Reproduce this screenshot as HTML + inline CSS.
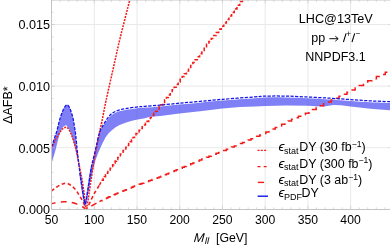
<!DOCTYPE html>
<html><head><meta charset="utf-8"><title>plot</title>
<style>html,body{margin:0;padding:0;background:#fff;width:390px;height:246px;overflow:hidden}body{position:relative;font-family:"Liberation Sans",sans-serif}</style></head>
<body>
<svg width="390" height="246" viewBox="0 0 390 246" style="position:absolute;left:0;top:0;will-change:transform" font-family="'Liberation Sans', sans-serif" fill="#000">
<rect width="390" height="246" fill="#fff"/>
<line x1="94.32" y1="0" x2="94.32" y2="209.30" stroke="#e7e7e7" stroke-width="0.9"/>
<line x1="137.04" y1="0" x2="137.04" y2="209.30" stroke="#e7e7e7" stroke-width="0.9"/>
<line x1="179.76" y1="0" x2="179.76" y2="209.30" stroke="#e7e7e7" stroke-width="0.9"/>
<line x1="222.48" y1="0" x2="222.48" y2="209.30" stroke="#e7e7e7" stroke-width="0.9"/>
<line x1="265.20" y1="0" x2="265.20" y2="209.30" stroke="#e7e7e7" stroke-width="0.9"/>
<line x1="307.92" y1="0" x2="307.92" y2="209.30" stroke="#e7e7e7" stroke-width="0.9"/>
<line x1="350.64" y1="0" x2="350.64" y2="209.30" stroke="#e7e7e7" stroke-width="0.9"/>
<line x1="393.36" y1="0" x2="393.36" y2="209.30" stroke="#e7e7e7" stroke-width="0.9"/>
<line x1="51.60" y1="147.73" x2="395" y2="147.73" stroke="#e7e7e7" stroke-width="0.9"/>
<line x1="51.60" y1="86.15" x2="395" y2="86.15" stroke="#e7e7e7" stroke-width="0.9"/>
<line x1="51.60" y1="24.58" x2="395" y2="24.58" stroke="#e7e7e7" stroke-width="0.9"/>
<path d="M51.50,147.00 C51.92,145.75 53.08,142.25 54.00,139.50 C54.92,136.75 56.15,133.45 57.00,130.50 C57.85,127.55 58.43,124.30 59.10,121.80 C59.77,119.30 60.35,117.42 61.00,115.50 C61.65,113.58 62.33,111.78 63.00,110.30 C63.67,108.82 64.35,107.48 65.00,106.60 C65.65,105.72 66.27,105.05 66.90,105.00 C67.53,104.95 68.17,105.38 68.80,106.30 C69.43,107.22 70.00,108.52 70.70,110.50 C71.40,112.48 72.35,115.37 73.00,118.20 C73.65,121.03 74.17,124.87 74.60,127.50 C75.03,130.13 75.20,130.58 75.60,134.00 C76.00,137.42 76.55,143.67 77.00,148.00 C77.45,152.33 77.82,155.83 78.30,160.00 C78.78,164.17 79.35,168.90 79.90,173.00 C80.45,177.10 81.03,180.77 81.60,184.60 C82.17,188.43 82.75,192.77 83.30,196.00 C83.85,199.23 84.63,202.67 84.90,204.00 L84.90,204.00 L83.30,192.00 L81.00,177.00 L78.00,161.50 L75.00,148.00 L72.00,136.50 L69.20,129.00 L66.10,125.10 L63.00,127.00 L60.50,131.50 L58.00,140.00 L55.00,152.00 L51.50,163.20 Z" fill="#2a2af0" fill-opacity="0.6" stroke="none"/>
<path d="M85.50,204.00 C85.73,202.67 86.38,199.17 86.90,196.00 C87.42,192.83 87.88,189.67 88.60,185.00 C89.32,180.33 90.47,172.17 91.20,168.00 C91.93,163.83 92.17,163.58 93.00,160.00 C93.83,156.42 95.10,151.12 96.20,146.50 C97.30,141.88 98.42,135.81 99.60,132.30 C100.78,128.79 101.97,127.58 103.30,125.44 C104.63,123.29 106.18,121.19 107.60,119.44 C109.02,117.68 110.10,116.17 111.80,114.90 C113.50,113.63 115.52,112.63 117.80,111.80 C120.08,110.97 122.40,110.47 125.50,109.90 C128.60,109.33 133.15,108.78 136.40,108.40 C139.65,108.02 140.98,107.93 145.00,107.60 C149.02,107.27 154.78,106.92 160.50,106.40 C166.22,105.88 172.72,105.12 179.30,104.50 C185.88,103.88 192.82,103.35 200.00,102.70 C207.18,102.05 213.23,101.35 222.40,100.60 C231.57,99.85 247.77,98.73 255.00,98.20 C262.23,97.67 260.65,97.53 265.80,97.40 C270.95,97.27 278.93,97.25 285.90,97.40 C292.87,97.55 300.25,97.95 307.60,98.30 C314.95,98.65 322.85,99.07 330.00,99.50 C337.15,99.93 343.78,100.45 350.50,100.90 C357.22,101.35 363.72,101.85 370.30,102.20 C376.88,102.55 385.72,102.82 390.00,103.00 C394.28,103.18 395.00,103.25 396.00,103.30 L396.00,110.60 L390.00,110.20 L370.30,108.70 L350.50,106.60 L341.00,105.20 L333.20,105.00 L324.00,106.40 L316.00,106.20 L307.60,105.80 L285.90,105.60 L265.80,105.90 L255.00,106.40 L240.00,107.00 L222.40,108.40 L200.00,111.20 L179.30,113.60 L160.50,115.90 L150.10,116.80 L145.00,118.20 L136.40,119.70 L131.90,120.70 L127.00,122.20 L122.80,123.70 L119.00,125.30 L115.60,127.30 L111.80,130.20 L108.40,133.60 L105.50,137.60 L102.90,142.60 L101.00,146.60 L98.80,151.50 L95.50,160.00 L92.50,172.00 L89.80,184.00 L87.60,196.00 L85.50,204.00 Z" fill="#2a2af0" fill-opacity="0.6" stroke="none"/>
<path d="M51.30,148.59 C51.75,147.62 53.05,144.73 54.00,142.80 C54.95,140.87 55.75,139.15 57.00,137.01 C58.25,134.88 60.33,131.51 61.50,129.99 C62.67,128.47 63.23,128.37 64.00,127.90 C64.77,127.43 65.43,127.10 66.10,127.16 C66.77,127.22 67.48,127.80 68.00,128.27 C68.52,128.74 68.62,128.86 69.20,129.99 C69.78,131.12 70.70,133.03 71.50,135.04 C72.30,137.05 73.17,139.39 74.00,142.06 C74.83,144.73 75.70,147.56 76.50,151.05 C77.30,154.54 78.05,159.14 78.80,163.00 C79.55,166.85 80.32,170.59 81.00,174.20 C81.68,177.81 82.32,180.98 82.90,184.67 C83.48,188.36 83.98,192.35 84.50,196.37 C85.02,200.39 85.42,208.12 86.00,208.81 C86.58,209.49 87.28,204.46 88.00,200.49 C88.72,196.53 89.27,191.78 90.30,185.04 C91.33,178.30 92.67,168.80 94.20,160.04 C95.73,151.28 98.23,138.80 99.50,132.45 C100.77,126.11 100.70,127.34 101.80,121.99 C102.90,116.63 103.95,110.33 106.10,100.31 C108.25,90.30 112.38,72.17 114.70,61.89 C117.02,51.61 117.48,48.96 120.00,38.61 C122.52,28.27 128.17,6.29 129.80,-0.18" fill="none" stroke="#f51a1a" stroke-width="1.5" stroke-dasharray="2,1.1"/>
<path d="M51.30,191.04 C51.75,190.70 53.05,189.72 54.00,189.04 C54.95,188.36 55.75,187.75 57.00,186.96 C58.25,186.17 60.33,184.85 61.50,184.28 C62.67,183.71 63.23,183.72 64.00,183.56 C64.77,183.40 65.43,183.31 66.10,183.33 C66.77,183.35 67.48,183.53 68.00,183.68 C68.52,183.83 68.62,183.87 69.20,184.22 C69.78,184.58 70.70,185.18 71.50,185.82 C72.30,186.46 73.17,187.20 74.00,188.04 C74.83,188.88 75.70,189.78 76.50,190.88 C77.30,191.98 78.05,193.44 78.80,194.66 C79.55,195.88 80.32,197.06 81.00,198.20 C81.68,199.34 82.32,200.34 82.90,201.51 C83.48,202.68 83.98,203.94 84.50,205.21 C85.02,206.48 85.42,208.93 86.00,209.14 C86.58,209.36 87.28,207.77 88.00,206.52 C88.72,205.26 89.27,203.76 90.30,201.63 C91.33,199.50 92.67,196.50 94.20,193.72 C95.73,190.95 98.62,186.46 99.50,185.00" fill="none" stroke="#f51a1a" stroke-width="1.55" stroke-dasharray="3.6,2.6"/>
<path d="M99.50,185.00 L101.00,182.05 L102.11,182.05 L102.11,180.31 L103.22,180.31 L103.22,178.52 L104.36,178.52 L104.36,176.70 L105.50,176.70 L105.50,174.87 L106.66,174.87 L106.66,173.22 L107.83,173.22 L107.83,171.55 L109.02,171.55 L109.02,169.86 L110.22,169.86 L110.22,168.15 L111.44,168.15 L111.44,166.42 L112.67,166.42 L112.67,164.68 L113.92,164.68 L113.92,162.91 L115.18,162.91 L115.18,161.14 L116.45,161.14 L116.45,159.36 L117.74,159.36 L117.74,157.56 L119.05,157.56 L119.05,155.73 L120.37,155.73 L120.37,154.03 L121.71,154.03 L121.71,152.34 L123.06,152.34 L123.06,150.64 L124.43,150.64 L124.43,148.91 L125.82,148.91 L125.82,147.17 L127.22,147.17 L127.22,145.40 L128.64,145.40 L128.64,143.61 L130.08,143.61 L130.08,141.67 L131.54,141.67 L131.54,139.64 L133.01,139.64 L133.01,137.58 L134.50,137.58 L134.50,135.51 L136.00,135.51 L136.00,133.52 L137.53,133.52 L137.53,131.86 L139.07,131.86 L139.07,130.18 L140.64,130.18 L140.64,128.48 L142.22,128.48 L142.22,126.77 L143.82,126.77 L143.82,125.03 L145.44,125.03 L145.44,123.27 L147.07,123.27 L147.07,121.39 L148.73,121.39 L148.73,119.42 L150.41,119.42 L150.41,117.42 L152.11,117.42 L152.11,115.39 L153.83,115.39 L153.83,113.35 L155.57,113.35 L155.57,111.27 L157.33,111.27 L157.33,109.18 L159.11,109.18 L159.11,107.05 L160.91,107.05 L160.91,104.86 L162.74,104.86 L162.74,102.43 L164.58,102.43 L164.58,99.97 L166.45,99.97 L166.45,97.48 L168.34,97.48 L168.34,94.97 L170.26,94.97 L170.26,92.42 L172.19,92.42 L172.19,89.84 L174.15,89.84 L174.15,87.23 L176.14,87.23 L176.14,84.59 L178.14,84.59 L178.14,81.91 L180.17,81.91 L180.17,79.23 L182.23,79.23 L182.23,76.53 L184.31,76.53 L184.31,73.80 L186.41,73.80 L186.41,71.04 L188.54,71.04 L188.54,68.25 L190.70,68.25 L190.70,65.42 L192.88,65.42 L192.88,62.55 L195.09,62.55 L195.09,59.65 L197.33,59.65 L197.33,56.66 L199.59,56.66 L199.59,53.63 L201.87,53.63 L201.87,50.56 L204.19,50.56 L204.19,47.46 L206.53,47.46 L206.53,44.32 L208.91,44.32 L208.91,41.40 L211.31,41.40 L211.31,38.44 L213.74,38.44 L213.74,35.44 L216.19,35.44 L216.19,32.41 L218.68,32.41 L218.68,29.34 L221.20,29.34 L221.20,26.24 L223.75,26.24 L223.75,23.03 L226.33,23.03 L226.33,19.56 L228.94,19.56 L228.94,16.04 L231.58,16.04 L231.58,12.48 L234.25,12.48 L234.25,8.88 L236.95,8.88 L236.95,5.23 L239.69,5.23 L239.69,1.54 L242.46,1.54 L242.46,-2.19 L245.26,-2.19 L245.26,-5.97 L248.10,-5.97 L248.10,-9.79 L250.97,-9.79 L250.97,-13.66 L253.87,-13.66 L253.87,-17.58 L256.81,-17.58 L256.81,-21.54 L259.79,-21.54 L259.79,-25.96 L262.80,-25.96" fill="none" stroke="#f51a1a" stroke-width="1.55" stroke-dasharray="3.6,2.5" stroke-dashoffset="0.5"/>
<path d="M51.30,203.65 C51.75,203.56 53.05,203.29 54.00,203.12 C54.95,202.94 55.75,202.78 57.00,202.58 C58.25,202.38 60.33,202.07 61.50,201.92 C62.67,201.78 63.23,201.77 64.00,201.73 C64.77,201.69 65.43,201.66 66.10,201.66 C66.77,201.67 67.48,201.72 68.00,201.76 C68.52,201.81 68.62,201.82 69.20,201.92 C69.78,202.03 70.70,202.21 71.50,202.39 C72.30,202.58 73.17,202.80 74.00,203.05 C74.83,203.29 75.70,203.56 76.50,203.88 C77.30,204.21 78.05,204.63 78.80,204.99 C79.55,205.35 80.32,205.70 81.00,206.04 C81.68,206.37 82.32,206.67 82.90,207.01 C83.48,207.35 83.98,207.72 84.50,208.10 C85.02,208.47 85.42,209.20 86.00,209.25 C86.58,209.30 87.28,208.82 88.00,208.42 C88.72,208.02 89.27,207.55 90.30,206.87 C91.33,206.20 92.67,205.25 94.20,204.37 C95.73,203.50 98.62,202.08 99.50,201.62" fill="none" stroke="#f51a1a" stroke-width="1.5" stroke-dasharray="5.9,5.2" stroke-dashoffset="1.5"/>
<path d="M99.50,201.62 L101.00,200.68 L102.11,200.68 L102.11,200.13 L103.22,200.13 L103.22,199.57 L104.36,199.57 L104.36,198.99 L105.50,198.99 L105.50,198.41 L106.66,198.41 L106.66,197.89 L107.83,197.89 L107.83,197.36 L109.02,197.36 L109.02,196.83 L110.22,196.83 L110.22,196.29 L111.44,196.29 L111.44,195.74 L112.67,195.74 L112.67,195.19 L113.92,195.19 L113.92,194.63 L115.18,194.63 L115.18,194.07 L116.45,194.07 L116.45,193.51 L117.74,193.51 L117.74,192.94 L119.05,192.94 L119.05,192.36 L120.37,192.36 L120.37,191.82 L121.71,191.82 L121.71,191.29 L123.06,191.29 L123.06,190.75 L124.43,190.75 L124.43,190.20 L125.82,190.20 L125.82,189.65 L127.22,189.65 L127.22,189.09 L128.64,189.09 L128.64,188.53 L130.08,188.53 L130.08,187.91 L131.54,187.91 L131.54,187.27 L133.01,187.27 L133.01,186.62 L134.50,186.62 L134.50,185.96 L136.00,185.96 L136.00,185.33 L137.53,185.33 L137.53,184.81 L139.07,184.81 L139.07,184.28 L140.64,184.28 L140.64,183.74 L142.22,183.74 L142.22,183.20 L143.82,183.20 L143.82,182.65 L145.44,182.65 L145.44,182.09 L147.07,182.09 L147.07,181.50 L148.73,181.50 L148.73,180.87 L150.41,180.87 L150.41,180.24 L152.11,180.24 L152.11,179.60 L153.83,179.60 L153.83,178.95 L155.57,178.95 L155.57,178.30 L157.33,178.30 L157.33,177.64 L159.11,177.64 L159.11,176.96 L160.91,176.96 L160.91,176.27 L162.74,176.27 L162.74,175.50 L164.58,175.50 L164.58,174.72 L166.45,174.72 L166.45,173.94 L168.34,173.94 L168.34,173.14 L170.26,173.14 L170.26,172.34 L172.19,172.34 L172.19,171.52 L174.15,171.52 L174.15,170.69 L176.14,170.69 L176.14,169.86 L178.14,169.86 L178.14,169.01 L180.17,169.01 L180.17,168.16 L182.23,168.16 L182.23,167.31 L184.31,167.31 L184.31,166.45 L186.41,166.45 L186.41,165.57 L188.54,165.57 L188.54,164.69 L190.70,164.69 L190.70,163.80 L192.88,163.80 L192.88,162.89 L195.09,162.89 L195.09,161.97 L197.33,161.97 L197.33,161.03 L199.59,161.03 L199.59,160.07 L201.87,160.07 L201.87,159.10 L204.19,159.10 L204.19,158.12 L206.53,158.12 L206.53,157.13 L208.91,157.13 L208.91,156.20 L211.31,156.20 L211.31,155.26 L213.74,155.26 L213.74,154.32 L216.19,154.32 L216.19,153.36 L218.68,153.36 L218.68,152.39 L221.20,152.39 L221.20,151.40 L223.75,151.40 L223.75,150.39 L226.33,150.39 L226.33,149.29 L228.94,149.29 L228.94,148.18 L231.58,148.18 L231.58,147.05 L234.25,147.05 L234.25,145.91 L236.95,145.91 L236.95,144.76 L239.69,144.76 L239.69,143.60 L242.46,143.60 L242.46,142.41 L245.26,142.41 L245.26,141.22 L248.10,141.22 L248.10,140.01 L250.97,140.01 L250.97,138.79 L253.87,138.79 L253.87,137.55 L256.81,137.55 L256.81,136.29 L259.79,136.29 L259.79,134.90 L262.80,134.90 L262.80,133.47 L265.85,133.47 L265.85,132.03 L268.93,132.03 L268.93,130.58 L272.05,130.58 L272.05,129.10 L275.21,129.10 L275.21,127.54 L278.41,127.54 L278.41,125.92 L281.64,125.92 L281.64,124.28 L284.91,124.28 L284.91,122.62 L288.23,122.62 L288.23,120.94 L291.58,120.94 L291.58,119.37 L294.97,119.37 L294.97,117.84 L298.40,117.84 L298.40,116.30 L301.88,116.30 L301.88,114.74 L305.39,114.74 L305.39,113.16 L308.95,113.16 L308.95,111.36 L312.55,111.36 L312.55,109.47 L316.20,109.47 L316.20,107.56 L319.88,107.56 L319.88,105.63 L323.62,105.63 L323.62,103.75 L327.39,103.75 L327.39,101.92 L331.22,101.92 L331.22,100.07 L335.08,100.07 L335.08,98.19 L339.00,98.19 L339.00,96.27 L342.96,96.27 L342.96,94.24 L346.97,94.24 L346.97,92.19 L351.03,92.19 L351.03,90.11 L355.13,90.11 L355.13,87.91 L359.29,87.91 L359.29,85.57 L363.49,85.57 L363.49,83.19 L367.75,83.19 L367.75,80.79 L372.05,80.79 L372.05,78.70 L376.41,78.70 L376.41,76.60 L380.82,76.60 L380.82,74.47 L385.28,74.47 L385.28,72.31 L389.80,72.31 L389.80,70.15 L394.37,70.15 L394.37,67.97 L399.00,67.97" fill="none" stroke="#f51a1a" stroke-width="1.5" stroke-dasharray="6.5,5.3" stroke-dashoffset="3"/>
<path d="M79.90,173.00 C80.18,174.93 81.03,180.77 81.60,184.60 C82.17,188.43 82.75,192.77 83.30,196.00 C83.85,199.23 84.53,202.67 84.90,204.00 C85.27,205.33 85.17,205.33 85.50,204.00 C85.83,202.67 86.38,199.17 86.90,196.00 C87.42,192.83 87.88,189.67 88.60,185.00 C89.32,180.33 90.77,170.83 91.20,168.00" fill="none" stroke="#2a2af0" stroke-opacity="0.5" stroke-width="1.7" stroke-linejoin="round"/>
<path d="M51.50,147.00 C51.92,145.75 53.08,142.25 54.00,139.50 C54.92,136.75 56.15,133.45 57.00,130.50 C57.85,127.55 58.43,124.30 59.10,121.80 C59.77,119.30 60.35,117.42 61.00,115.50 C61.65,113.58 62.33,111.78 63.00,110.30 C63.67,108.82 64.35,107.48 65.00,106.60 C65.65,105.72 66.27,105.05 66.90,105.00 C67.53,104.95 68.17,105.38 68.80,106.30 C69.43,107.22 70.00,108.52 70.70,110.50 C71.40,112.48 72.35,115.37 73.00,118.20 C73.65,121.03 74.17,124.87 74.60,127.50 C75.03,130.13 75.20,130.58 75.60,134.00 C76.00,137.42 76.55,143.67 77.00,148.00 C77.45,152.33 77.82,155.83 78.30,160.00 C78.78,164.17 79.35,168.90 79.90,173.00 C80.45,177.10 81.03,180.77 81.60,184.60 C82.17,188.43 82.75,192.77 83.30,196.00 C83.85,199.23 84.63,202.67 84.90,204.00" fill="none" stroke="#1414e6" stroke-width="1.25" stroke-dasharray="3.2,1.4"/>
<path d="M85.50,204.00 C85.73,202.67 86.38,199.17 86.90,196.00 C87.42,192.83 87.88,189.67 88.60,185.00 C89.32,180.33 90.47,172.17 91.20,168.00 C91.93,163.83 92.17,163.58 93.00,160.00 C93.83,156.42 95.10,151.12 96.20,146.50 C97.30,141.88 98.42,135.90 99.60,132.30 C100.78,128.70 101.97,127.25 103.30,124.90 C104.63,122.55 106.18,120.08 107.60,118.20 C109.02,116.32 110.10,114.88 111.80,113.60 C113.50,112.32 115.52,111.33 117.80,110.50 C120.08,109.67 122.40,109.17 125.50,108.60 C128.60,108.03 133.15,107.48 136.40,107.10 C139.65,106.72 140.98,106.63 145.00,106.30 C149.02,105.97 154.78,105.62 160.50,105.10 C166.22,104.58 172.72,103.82 179.30,103.20 C185.88,102.58 192.82,102.05 200.00,101.40 C207.18,100.75 213.23,100.05 222.40,99.30 C231.57,98.55 247.77,97.43 255.00,96.90 C262.23,96.37 260.65,96.23 265.80,96.10 C270.95,95.97 278.93,95.95 285.90,96.10 C292.87,96.25 300.25,96.65 307.60,97.00 C314.95,97.35 322.85,97.77 330.00,98.20 C337.15,98.63 343.78,99.15 350.50,99.60 C357.22,100.05 363.72,100.55 370.30,100.90 C376.88,101.25 385.72,101.52 390.00,101.70 C394.28,101.88 395.00,101.95 396.00,102.00" fill="none" stroke="#1414e6" stroke-width="1.25" stroke-dasharray="3.2,1.4"/>
<path d="M51.5,0 V209.5 H395" fill="none" stroke="#c4c4c4" stroke-width="1"/>
<line x1="51.60" y1="0.2" x2="395" y2="0.2" stroke="#c4c4c4" stroke-width="0.7"/>
<line x1="51.60" y1="209.30" x2="51.60" y2="205.90" stroke="#c4c4c4" stroke-width="0.6"/>
<line x1="51.60" y1="0" x2="51.60" y2="3.40" stroke="#c4c4c4" stroke-width="0.6"/>
<line x1="60.14" y1="209.30" x2="60.14" y2="207.30" stroke="#c4c4c4" stroke-width="0.6"/>
<line x1="60.14" y1="0" x2="60.14" y2="2.00" stroke="#c4c4c4" stroke-width="0.6"/>
<line x1="68.69" y1="209.30" x2="68.69" y2="207.30" stroke="#c4c4c4" stroke-width="0.6"/>
<line x1="68.69" y1="0" x2="68.69" y2="2.00" stroke="#c4c4c4" stroke-width="0.6"/>
<line x1="77.23" y1="209.30" x2="77.23" y2="207.30" stroke="#c4c4c4" stroke-width="0.6"/>
<line x1="77.23" y1="0" x2="77.23" y2="2.00" stroke="#c4c4c4" stroke-width="0.6"/>
<line x1="85.78" y1="209.30" x2="85.78" y2="207.30" stroke="#c4c4c4" stroke-width="0.6"/>
<line x1="85.78" y1="0" x2="85.78" y2="2.00" stroke="#c4c4c4" stroke-width="0.6"/>
<line x1="94.32" y1="209.30" x2="94.32" y2="205.90" stroke="#c4c4c4" stroke-width="0.6"/>
<line x1="94.32" y1="0" x2="94.32" y2="3.40" stroke="#c4c4c4" stroke-width="0.6"/>
<line x1="102.86" y1="209.30" x2="102.86" y2="207.30" stroke="#c4c4c4" stroke-width="0.6"/>
<line x1="102.86" y1="0" x2="102.86" y2="2.00" stroke="#c4c4c4" stroke-width="0.6"/>
<line x1="111.41" y1="209.30" x2="111.41" y2="207.30" stroke="#c4c4c4" stroke-width="0.6"/>
<line x1="111.41" y1="0" x2="111.41" y2="2.00" stroke="#c4c4c4" stroke-width="0.6"/>
<line x1="119.95" y1="209.30" x2="119.95" y2="207.30" stroke="#c4c4c4" stroke-width="0.6"/>
<line x1="119.95" y1="0" x2="119.95" y2="2.00" stroke="#c4c4c4" stroke-width="0.6"/>
<line x1="128.50" y1="209.30" x2="128.50" y2="207.30" stroke="#c4c4c4" stroke-width="0.6"/>
<line x1="128.50" y1="0" x2="128.50" y2="2.00" stroke="#c4c4c4" stroke-width="0.6"/>
<line x1="137.04" y1="209.30" x2="137.04" y2="205.90" stroke="#c4c4c4" stroke-width="0.6"/>
<line x1="137.04" y1="0" x2="137.04" y2="3.40" stroke="#c4c4c4" stroke-width="0.6"/>
<line x1="145.58" y1="209.30" x2="145.58" y2="207.30" stroke="#c4c4c4" stroke-width="0.6"/>
<line x1="145.58" y1="0" x2="145.58" y2="2.00" stroke="#c4c4c4" stroke-width="0.6"/>
<line x1="154.13" y1="209.30" x2="154.13" y2="207.30" stroke="#c4c4c4" stroke-width="0.6"/>
<line x1="154.13" y1="0" x2="154.13" y2="2.00" stroke="#c4c4c4" stroke-width="0.6"/>
<line x1="162.67" y1="209.30" x2="162.67" y2="207.30" stroke="#c4c4c4" stroke-width="0.6"/>
<line x1="162.67" y1="0" x2="162.67" y2="2.00" stroke="#c4c4c4" stroke-width="0.6"/>
<line x1="171.22" y1="209.30" x2="171.22" y2="207.30" stroke="#c4c4c4" stroke-width="0.6"/>
<line x1="171.22" y1="0" x2="171.22" y2="2.00" stroke="#c4c4c4" stroke-width="0.6"/>
<line x1="179.76" y1="209.30" x2="179.76" y2="205.90" stroke="#c4c4c4" stroke-width="0.6"/>
<line x1="179.76" y1="0" x2="179.76" y2="3.40" stroke="#c4c4c4" stroke-width="0.6"/>
<line x1="188.30" y1="209.30" x2="188.30" y2="207.30" stroke="#c4c4c4" stroke-width="0.6"/>
<line x1="188.30" y1="0" x2="188.30" y2="2.00" stroke="#c4c4c4" stroke-width="0.6"/>
<line x1="196.85" y1="209.30" x2="196.85" y2="207.30" stroke="#c4c4c4" stroke-width="0.6"/>
<line x1="196.85" y1="0" x2="196.85" y2="2.00" stroke="#c4c4c4" stroke-width="0.6"/>
<line x1="205.39" y1="209.30" x2="205.39" y2="207.30" stroke="#c4c4c4" stroke-width="0.6"/>
<line x1="205.39" y1="0" x2="205.39" y2="2.00" stroke="#c4c4c4" stroke-width="0.6"/>
<line x1="213.94" y1="209.30" x2="213.94" y2="207.30" stroke="#c4c4c4" stroke-width="0.6"/>
<line x1="213.94" y1="0" x2="213.94" y2="2.00" stroke="#c4c4c4" stroke-width="0.6"/>
<line x1="222.48" y1="209.30" x2="222.48" y2="205.90" stroke="#c4c4c4" stroke-width="0.6"/>
<line x1="222.48" y1="0" x2="222.48" y2="3.40" stroke="#c4c4c4" stroke-width="0.6"/>
<line x1="231.02" y1="209.30" x2="231.02" y2="207.30" stroke="#c4c4c4" stroke-width="0.6"/>
<line x1="231.02" y1="0" x2="231.02" y2="2.00" stroke="#c4c4c4" stroke-width="0.6"/>
<line x1="239.57" y1="209.30" x2="239.57" y2="207.30" stroke="#c4c4c4" stroke-width="0.6"/>
<line x1="239.57" y1="0" x2="239.57" y2="2.00" stroke="#c4c4c4" stroke-width="0.6"/>
<line x1="248.11" y1="209.30" x2="248.11" y2="207.30" stroke="#c4c4c4" stroke-width="0.6"/>
<line x1="248.11" y1="0" x2="248.11" y2="2.00" stroke="#c4c4c4" stroke-width="0.6"/>
<line x1="256.66" y1="209.30" x2="256.66" y2="207.30" stroke="#c4c4c4" stroke-width="0.6"/>
<line x1="256.66" y1="0" x2="256.66" y2="2.00" stroke="#c4c4c4" stroke-width="0.6"/>
<line x1="265.20" y1="209.30" x2="265.20" y2="205.90" stroke="#c4c4c4" stroke-width="0.6"/>
<line x1="265.20" y1="0" x2="265.20" y2="3.40" stroke="#c4c4c4" stroke-width="0.6"/>
<line x1="273.74" y1="209.30" x2="273.74" y2="207.30" stroke="#c4c4c4" stroke-width="0.6"/>
<line x1="273.74" y1="0" x2="273.74" y2="2.00" stroke="#c4c4c4" stroke-width="0.6"/>
<line x1="282.29" y1="209.30" x2="282.29" y2="207.30" stroke="#c4c4c4" stroke-width="0.6"/>
<line x1="282.29" y1="0" x2="282.29" y2="2.00" stroke="#c4c4c4" stroke-width="0.6"/>
<line x1="290.83" y1="209.30" x2="290.83" y2="207.30" stroke="#c4c4c4" stroke-width="0.6"/>
<line x1="290.83" y1="0" x2="290.83" y2="2.00" stroke="#c4c4c4" stroke-width="0.6"/>
<line x1="299.38" y1="209.30" x2="299.38" y2="207.30" stroke="#c4c4c4" stroke-width="0.6"/>
<line x1="299.38" y1="0" x2="299.38" y2="2.00" stroke="#c4c4c4" stroke-width="0.6"/>
<line x1="307.92" y1="209.30" x2="307.92" y2="205.90" stroke="#c4c4c4" stroke-width="0.6"/>
<line x1="307.92" y1="0" x2="307.92" y2="3.40" stroke="#c4c4c4" stroke-width="0.6"/>
<line x1="316.46" y1="209.30" x2="316.46" y2="207.30" stroke="#c4c4c4" stroke-width="0.6"/>
<line x1="316.46" y1="0" x2="316.46" y2="2.00" stroke="#c4c4c4" stroke-width="0.6"/>
<line x1="325.01" y1="209.30" x2="325.01" y2="207.30" stroke="#c4c4c4" stroke-width="0.6"/>
<line x1="325.01" y1="0" x2="325.01" y2="2.00" stroke="#c4c4c4" stroke-width="0.6"/>
<line x1="333.55" y1="209.30" x2="333.55" y2="207.30" stroke="#c4c4c4" stroke-width="0.6"/>
<line x1="333.55" y1="0" x2="333.55" y2="2.00" stroke="#c4c4c4" stroke-width="0.6"/>
<line x1="342.10" y1="209.30" x2="342.10" y2="207.30" stroke="#c4c4c4" stroke-width="0.6"/>
<line x1="342.10" y1="0" x2="342.10" y2="2.00" stroke="#c4c4c4" stroke-width="0.6"/>
<line x1="350.64" y1="209.30" x2="350.64" y2="205.90" stroke="#c4c4c4" stroke-width="0.6"/>
<line x1="350.64" y1="0" x2="350.64" y2="3.40" stroke="#c4c4c4" stroke-width="0.6"/>
<line x1="359.18" y1="209.30" x2="359.18" y2="207.30" stroke="#c4c4c4" stroke-width="0.6"/>
<line x1="359.18" y1="0" x2="359.18" y2="2.00" stroke="#c4c4c4" stroke-width="0.6"/>
<line x1="367.73" y1="209.30" x2="367.73" y2="207.30" stroke="#c4c4c4" stroke-width="0.6"/>
<line x1="367.73" y1="0" x2="367.73" y2="2.00" stroke="#c4c4c4" stroke-width="0.6"/>
<line x1="376.27" y1="209.30" x2="376.27" y2="207.30" stroke="#c4c4c4" stroke-width="0.6"/>
<line x1="376.27" y1="0" x2="376.27" y2="2.00" stroke="#c4c4c4" stroke-width="0.6"/>
<line x1="384.82" y1="209.30" x2="384.82" y2="207.30" stroke="#c4c4c4" stroke-width="0.6"/>
<line x1="384.82" y1="0" x2="384.82" y2="2.00" stroke="#c4c4c4" stroke-width="0.6"/>
<line x1="393.36" y1="209.30" x2="393.36" y2="205.90" stroke="#c4c4c4" stroke-width="0.6"/>
<line x1="393.36" y1="0" x2="393.36" y2="3.40" stroke="#c4c4c4" stroke-width="0.6"/>
<line x1="51.60" y1="209.30" x2="55.00" y2="209.30" stroke="#c4c4c4" stroke-width="0.6"/>
<line x1="393.36" y1="209.30" x2="388.46" y2="209.30" stroke="#c4c4c4" stroke-width="0.6"/>
<line x1="51.60" y1="196.99" x2="53.60" y2="196.99" stroke="#c4c4c4" stroke-width="0.6"/>
<line x1="393.36" y1="196.99" x2="389.86" y2="196.99" stroke="#c4c4c4" stroke-width="0.6"/>
<line x1="51.60" y1="184.67" x2="53.60" y2="184.67" stroke="#c4c4c4" stroke-width="0.6"/>
<line x1="393.36" y1="184.67" x2="389.86" y2="184.67" stroke="#c4c4c4" stroke-width="0.6"/>
<line x1="51.60" y1="172.36" x2="53.60" y2="172.36" stroke="#c4c4c4" stroke-width="0.6"/>
<line x1="393.36" y1="172.36" x2="389.86" y2="172.36" stroke="#c4c4c4" stroke-width="0.6"/>
<line x1="51.60" y1="160.04" x2="53.60" y2="160.04" stroke="#c4c4c4" stroke-width="0.6"/>
<line x1="393.36" y1="160.04" x2="389.86" y2="160.04" stroke="#c4c4c4" stroke-width="0.6"/>
<line x1="51.60" y1="147.73" x2="55.00" y2="147.73" stroke="#c4c4c4" stroke-width="0.6"/>
<line x1="393.36" y1="147.73" x2="388.46" y2="147.73" stroke="#c4c4c4" stroke-width="0.6"/>
<line x1="51.60" y1="135.41" x2="53.60" y2="135.41" stroke="#c4c4c4" stroke-width="0.6"/>
<line x1="393.36" y1="135.41" x2="389.86" y2="135.41" stroke="#c4c4c4" stroke-width="0.6"/>
<line x1="51.60" y1="123.10" x2="53.60" y2="123.10" stroke="#c4c4c4" stroke-width="0.6"/>
<line x1="393.36" y1="123.10" x2="389.86" y2="123.10" stroke="#c4c4c4" stroke-width="0.6"/>
<line x1="51.60" y1="110.78" x2="53.60" y2="110.78" stroke="#c4c4c4" stroke-width="0.6"/>
<line x1="393.36" y1="110.78" x2="389.86" y2="110.78" stroke="#c4c4c4" stroke-width="0.6"/>
<line x1="51.60" y1="98.47" x2="53.60" y2="98.47" stroke="#c4c4c4" stroke-width="0.6"/>
<line x1="393.36" y1="98.47" x2="389.86" y2="98.47" stroke="#c4c4c4" stroke-width="0.6"/>
<line x1="51.60" y1="86.15" x2="55.00" y2="86.15" stroke="#c4c4c4" stroke-width="0.6"/>
<line x1="393.36" y1="86.15" x2="388.46" y2="86.15" stroke="#c4c4c4" stroke-width="0.6"/>
<line x1="51.60" y1="73.84" x2="53.60" y2="73.84" stroke="#c4c4c4" stroke-width="0.6"/>
<line x1="393.36" y1="73.84" x2="389.86" y2="73.84" stroke="#c4c4c4" stroke-width="0.6"/>
<line x1="51.60" y1="61.52" x2="53.60" y2="61.52" stroke="#c4c4c4" stroke-width="0.6"/>
<line x1="393.36" y1="61.52" x2="389.86" y2="61.52" stroke="#c4c4c4" stroke-width="0.6"/>
<line x1="51.60" y1="49.20" x2="53.60" y2="49.20" stroke="#c4c4c4" stroke-width="0.6"/>
<line x1="393.36" y1="49.20" x2="389.86" y2="49.20" stroke="#c4c4c4" stroke-width="0.6"/>
<line x1="51.60" y1="36.89" x2="53.60" y2="36.89" stroke="#c4c4c4" stroke-width="0.6"/>
<line x1="393.36" y1="36.89" x2="389.86" y2="36.89" stroke="#c4c4c4" stroke-width="0.6"/>
<line x1="51.60" y1="24.58" x2="55.00" y2="24.58" stroke="#c4c4c4" stroke-width="0.6"/>
<line x1="393.36" y1="24.58" x2="388.46" y2="24.58" stroke="#c4c4c4" stroke-width="0.6"/>
<line x1="51.60" y1="12.26" x2="53.60" y2="12.26" stroke="#c4c4c4" stroke-width="0.6"/>
<line x1="393.36" y1="12.26" x2="389.86" y2="12.26" stroke="#c4c4c4" stroke-width="0.6"/>
<line x1="51.60" y1="-0.06" x2="53.60" y2="-0.06" stroke="#c4c4c4" stroke-width="0.6"/>
<line x1="393.36" y1="-0.06" x2="389.86" y2="-0.06" stroke="#c4c4c4" stroke-width="0.6"/>
<text x="51.50" y="223.7" font-size="12.2" text-anchor="middle">50</text>
<text x="94.22" y="223.7" font-size="12.2" text-anchor="middle">100</text>
<text x="136.94" y="223.7" font-size="12.2" text-anchor="middle">150</text>
<text x="179.66" y="223.7" font-size="12.2" text-anchor="middle">200</text>
<text x="222.38" y="223.7" font-size="12.2" text-anchor="middle">250</text>
<text x="265.10" y="223.7" font-size="12.2" text-anchor="middle">300</text>
<text x="307.82" y="223.7" font-size="12.2" text-anchor="middle">350</text>
<text x="350.54" y="223.7" font-size="12.2" text-anchor="middle">400</text>
<text x="49.9" y="214.10" font-size="12.6" text-anchor="end">0.000</text>
<text x="49.9" y="152.53" font-size="12.6" text-anchor="end">0.005</text>
<text x="49.9" y="90.95" font-size="12.6" text-anchor="end">0.010</text>
<text x="49.9" y="29.38" font-size="12.6" text-anchor="end">0.015</text>
<text transform="translate(193.6,241.5) skewX(-5)" font-size="12.8" font-style="italic">M</text>
<path d="M205.4,243.9 L206.9,237.2 M207.5,243.9 L209,237.2" fill="none" stroke="#000" stroke-width="0.85"/>
<text x="216.0" y="241.5" font-size="12.3">[GeV]</text>
<text transform="translate(11.9,105.1) rotate(-90)" font-size="12.5" text-anchor="middle">ΔAFB*</text>
<text x="335.8" y="23" font-size="12.65" text-anchor="middle">LHC@13TeV</text>
<text x="311.3" y="42.2" font-size="12.5">pp</text>
<path d="M329.4,38.7 H337.9 M335.3,36.2 L338.2,38.7 L335.3,41.2" fill="none" stroke="#000" stroke-width="0.95"/>
<path d="M343.4,42 L346.1,33.3 M352,42 L354.7,33.3" fill="none" stroke="#000" stroke-width="1.05"/>
<text x="348.6" y="36.6" font-size="8.2" text-anchor="middle">+</text>
<text x="358.1" y="36.2" font-size="8.2" text-anchor="middle">−</text>
<text x="335.5" y="60.8" font-size="12.5" text-anchor="middle">NNPDF3.1</text>
<line x1="257.5" y1="150.4" x2="267.5" y2="150.4" stroke="#f51a1a" stroke-width="1.4" stroke-dasharray="2,1.3"/>
<line x1="257.5" y1="166.6" x2="267.5" y2="166.6" stroke="#f51a1a" stroke-width="1.4" stroke-dasharray="3,3.2"/>
<line x1="257.8" y1="182.4" x2="264" y2="182.4" stroke="#f51a1a" stroke-width="1.4"/>
<line x1="257.6" y1="196.2" x2="268" y2="196.2" stroke="#1414e6" stroke-width="1.4"/>
<text x="278.4" y="151.40" font-size="13.4" font-style="italic">ϵ</text><text x="283.9" y="153.70" font-size="9">stat</text><text x="299.30" y="151.40" font-size="12.45">DY (30 fb<tspan font-size="8.6" dy="-4.6">−1</tspan><tspan dy="4.6">)</tspan></text>
<text x="278.4" y="167.80" font-size="13.4" font-style="italic">ϵ</text><text x="283.9" y="170.10" font-size="9">stat</text><text x="299.30" y="167.80" font-size="12.45">DY (300 fb<tspan font-size="8.6" dy="-4.6">−1</tspan><tspan dy="4.6">)</tspan></text>
<text x="278.4" y="184.10" font-size="13.4" font-style="italic">ϵ</text><text x="283.9" y="186.40" font-size="9">stat</text><text x="299.30" y="184.10" font-size="12.45">DY (3 ab<tspan font-size="8.6" dy="-4.6">−1</tspan><tspan dy="4.6">)</tspan></text>
<text x="278.4" y="197.40" font-size="13.4" font-style="italic">ϵ</text><text x="283.9" y="199.70" font-size="9">PDF</text><text x="301.60" y="197.40" font-size="12.45">DY</text>
</svg>
</body></html>
